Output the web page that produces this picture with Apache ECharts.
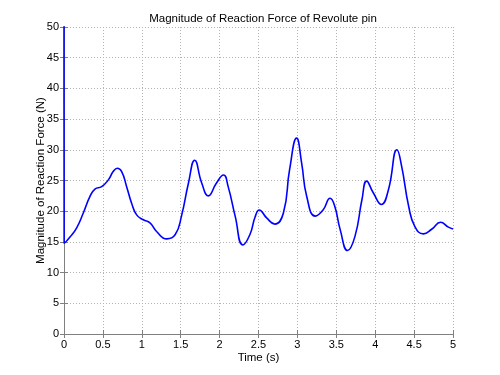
<!DOCTYPE html>
<html>
<head>
<meta charset="utf-8">
<script src="https://cdn.jsdelivr.net/npm/echarts@6/dist/echarts.min.js"></script>
<style>html,body{margin:0;padding:0;background:#fff}#c{width:500px;height:375px}</style>
</head>
<body>
<div id="c"></div>
<script>
const titleText = 'Magnitude of Reaction Force of Revolute pin';
const xLabel = 'Time (s)';
const yLabel = 'Magnitude of Reaction Force (N)';
const xTicks = [0, 0.5, 1, 1.5, 2, 2.5, 3, 3.5, 4, 4.5, 5];
const yTicks = [0, 5, 10, 15, 20, 25, 30, 35, 40, 45, 50];
const timeS = [0, 0.002, 0.077, 0.163, 0.248, 0.334, 0.398, 0.484, 0.57, 0.634, 0.685, 0.74, 0.805, 0.869, 0.934, 1.02, 1.105, 1.19, 1.32, 1.43, 1.51, 1.60, 1.68, 1.77, 1.855, 1.96, 2.05, 2.11, 2.20, 2.30, 2.39, 2.455, 2.51, 2.605, 2.71, 2.82, 2.90, 2.99, 3.055, 3.12, 3.23, 3.33, 3.42, 3.48, 3.55, 3.645, 3.74, 3.83, 3.89, 3.975, 4.08, 4.17, 4.28, 4.34, 4.43, 4.51, 4.62, 4.73, 4.84, 4.94, 5.0];
const forceN = [60, 14.8, 15.8, 17.3, 19.7, 22.4, 23.6, 24.0, 25.1, 26.5, 27.0, 26.5, 24.0, 21.3, 19.4, 18.6, 18.1, 16.7, 15.5, 16.2, 19.2, 24.6, 28.3, 24.6, 22.5, 24.6, 25.9, 24.0, 19.2, 14.5, 16.2, 19.0, 20.2, 18.9, 17.9, 19.7, 26.8, 31.9, 27.8, 22.4, 19.2, 20.2, 22.1, 20.8, 17.0, 13.6, 15.9, 21.9, 24.9, 23.0, 21.1, 23.5, 30.0, 27.3, 20.8, 17.5, 16.3, 17.1, 18.2, 17.4, 17.1];

const data = timeS.map((t, i) => [t, forceN[i]]);
const font = 'Liberation Sans, Arial, sans-serif';
const axisCommon = {
  axisLine: { show: true, lineStyle: { color: '#808080', width: 1 } },
  axisTick: { show: true, inside: true, length: 4, lineStyle: { color: '#808080' } },
};
const chart = echarts.init(document.getElementById('c'));
chart.setOption({
  animation: false,
  backgroundColor: '#ffffff',
  title: {
    text: titleText, left: 258, top: 8, textAlign: 'center',
    textStyle: { fontFamily: font, fontSize: 11.5, fontWeight: 'normal', color: '#000' }
  },
  grid: { left: 64, right: 47, top: 27, bottom: 41, containLabel: false },
  xAxis: [
    Object.assign({
      type: 'value', min: 0, max: 5, interval: 0.5,
      name: xLabel, nameLocation: 'middle', nameGap: 18, nameMoveOverlap: false,
      nameTextStyle: { fontFamily: font, fontSize: 11.5, color: '#000' },
      axisLabel: { fontFamily: font, fontSize: 11, color: '#000', margin: 5,
        formatter: v => xTicks.includes(v) ? String(v) : '' },
      splitLine: { show: true, lineStyle: { color: '#b4b4b4', type: [1, 2], width: 1 } }
    }, axisCommon),
    Object.assign({
      type: 'value', min: 0, max: 5, interval: 0.5, position: 'top',
      axisLabel: { show: false }, splitLine: { show: false }
    }, axisCommon)
  ],
  yAxis: [
    Object.assign({
      type: 'value', min: 0, max: 50, interval: 5,
      name: yLabel, nameLocation: 'middle', nameGap: 17, nameMoveOverlap: false,
      nameTextStyle: { fontFamily: font, fontSize: 11.5, color: '#000' },
      axisLabel: { fontFamily: font, fontSize: 11, color: '#000', margin: 5,
        formatter: v => yTicks.includes(v) ? String(v) : '' },
      splitLine: { show: true, lineStyle: { color: '#b4b4b4', type: [1, 2], width: 1 } }
    }, axisCommon),
    Object.assign({
      type: 'value', min: 0, max: 50, interval: 5, position: 'right',
      axisLabel: { show: false }, splitLine: { show: false }
    }, axisCommon)
  ],
  series: [{
    type: 'line', data: data, smooth: 0.5, showSymbol: false, clip: true,
    lineStyle: { color: '#0000ff', width: 1.6 }
  }]
});
</script>
</body>
</html>
